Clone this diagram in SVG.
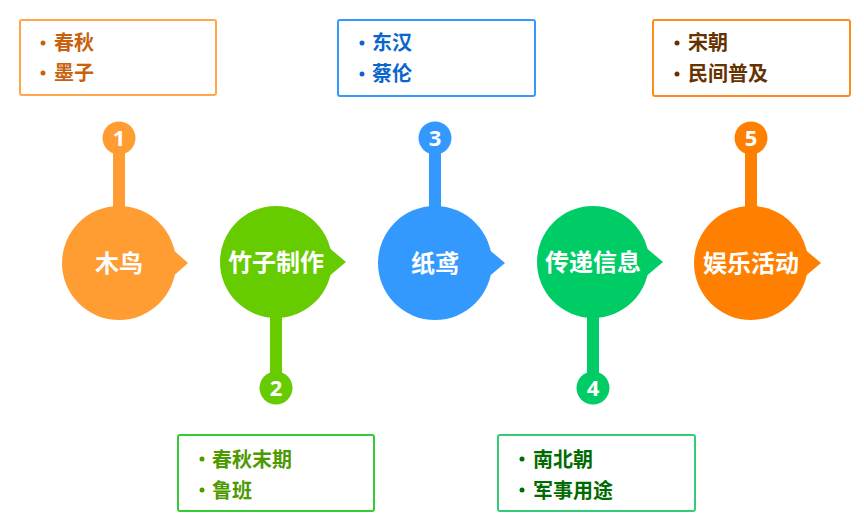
<svg xmlns="http://www.w3.org/2000/svg" width="864" height="524" viewBox="0 0 864 524">
<style>
text{font-family:"Noto Sans CJK SC","Liberation Sans",sans-serif;font-weight:bold}
.lbl{fill:#fff;font-size:24px;text-anchor:middle}
.num{fill:#fff;font-size:22px;text-anchor:middle;font-family:"Open Sans","Liberation Sans",sans-serif}
.box{fill:#fff;stroke-width:2}
.bt{font-size:20px}
</style>
<rect width="864" height="524" fill="#fff"/>
<g id="connectors">
<rect x="113" y="138" width="12" height="70" fill="#ff9d33"/>
<rect x="270" y="316" width="12" height="72" fill="#66cc00"/>
<rect x="429" y="138" width="12" height="70" fill="#3399ff"/>
<rect x="587" y="316" width="12" height="72" fill="#00cc66"/>
<rect x="745" y="138" width="12" height="70" fill="#ff8000"/>
</g>
<g id="node1">
<circle cx="119" cy="263" r="57" fill="#ff9d33"/>
<polygon points="170,247 188,263 170,279" fill="#ff9d33"/>
<text class="lbl" x="119" y="272">木鸟</text>
<circle cx="119" cy="138" r="16.5" fill="#ff9d33"/>
<text class="num" x="119" y="146">1</text>
</g>
<g id="node2">
<circle cx="276" cy="262" r="56" fill="#66cc00"/>
<polygon points="327,246 346,262 327,278" fill="#66cc00"/>
<text class="lbl" x="276" y="271">竹子制作</text>
<circle cx="276" cy="388" r="16.5" fill="#66cc00"/>
<text class="num" x="276" y="396">2</text>
</g>
<g id="node3">
<circle cx="435" cy="263" r="57" fill="#3399ff"/>
<polygon points="486,247 505,263 486,279" fill="#3399ff"/>
<text class="lbl" x="435" y="272">纸鸢</text>
<circle cx="435" cy="138" r="16.5" fill="#3399ff"/>
<text class="num" x="435" y="146">3</text>
</g>
<g id="node4">
<circle cx="593" cy="262" r="56" fill="#00cc66"/>
<polygon points="644,246 663,262 644,278" fill="#00cc66"/>
<text class="lbl" x="593" y="271">传递信息</text>
<circle cx="593" cy="388" r="16.5" fill="#00cc66"/>
<text class="num" x="593" y="396">4</text>
</g>
<g id="node5">
<circle cx="751" cy="263" r="57" fill="#ff8000"/>
<polygon points="802,247 821,263 802,279" fill="#ff8000"/>
<text class="lbl" x="751" y="272">娱乐活动</text>
<circle cx="751" cy="138" r="16.5" fill="#ff8000"/>
<text class="num" x="751" y="146">5</text>
</g>
<g id="box1">
<rect class="box" x="20" y="20" width="196" height="75" rx="2" stroke="#ffa64d"/>
<circle cx="43" cy="43" r="2.5" fill="#c8620c"/>
<circle cx="43" cy="73" r="2.5" fill="#c8620c"/>
<text class="bt" x="54" y="50" fill="#c8620c">春秋</text>
<text class="bt" x="54" y="80" fill="#c8620c">墨子</text>
</g>
<g id="box2">
<rect class="box" x="178" y="435" width="196" height="76" rx="2" stroke="#33cc33"/>
<circle cx="202" cy="459" r="2.5" fill="#4d9900"/>
<circle cx="202" cy="490" r="2.5" fill="#4d9900"/>
<text class="bt" x="212" y="467" fill="#4d9900">春秋末期</text>
<text class="bt" x="212" y="498" fill="#4d9900">鲁班</text>
</g>
<g id="box3">
<rect class="box" x="338" y="20" width="197" height="76" rx="2" stroke="#3399ff"/>
<circle cx="362" cy="43" r="2.5" fill="#0a66cc"/>
<circle cx="362" cy="74" r="2.5" fill="#0a66cc"/>
<text class="bt" x="372" y="50" fill="#0a66cc">东汉</text>
<text class="bt" x="372" y="81" fill="#0a66cc">蔡伦</text>
</g>
<g id="box4">
<rect class="box" x="498" y="435" width="197" height="76" rx="2" stroke="#33cc77"/>
<circle cx="522" cy="459" r="2.5" fill="#006b00"/>
<circle cx="522" cy="490" r="2.5" fill="#006b00"/>
<text class="bt" x="533" y="467" fill="#006b00">南北朝</text>
<text class="bt" x="533" y="498" fill="#006b00">军事用途</text>
</g>
<g id="box5">
<rect class="box" x="653" y="20" width="197" height="76" rx="2" stroke="#ff8c1a"/>
<circle cx="677" cy="43" r="2.5" fill="#663300"/>
<circle cx="677" cy="74" r="2.5" fill="#663300"/>
<text class="bt" x="688" y="50" fill="#663300">宋朝</text>
<text class="bt" x="688" y="81" fill="#663300">民间普及</text>
</g>
</svg>
